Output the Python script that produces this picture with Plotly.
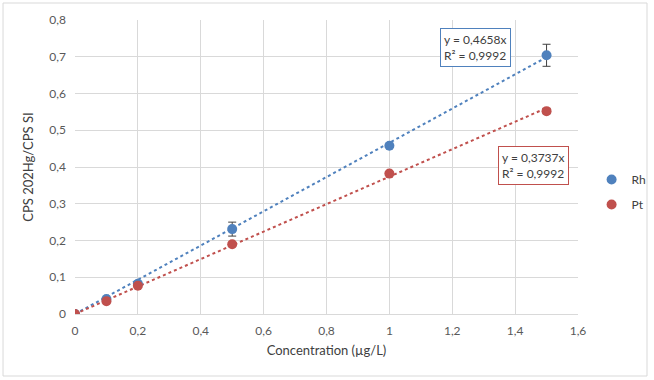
import plotly.graph_objects as go

conc = [0, 0.1, 0.2, 0.5, 1.0, 1.5]
rh_vals = [0.0, 0.041, 0.082, 0.231, 0.458, 0.704]
rh_err = [0.0, 0.0, 0.0, 0.019, 0.0, 0.030]
pt_vals = [0.0, 0.035, 0.077, 0.190, 0.382, 0.552]
pt_err = [0.0, 0.0, 0.0, 0.0, 0.0, 0.007]
rh_slope = 0.4658
pt_slope = 0.3737
trend_x = [0, 1.5]

blue = "#4F81BD"
red = "#C0504D"
font = "Lato"

fig = go.Figure()
fig.add_trace(go.Scatter(x=trend_x, y=[rh_slope * v for v in trend_x], mode="lines",
                         line=dict(color=blue, width=2, dash="dot"), showlegend=False, hoverinfo="skip"))
fig.add_trace(go.Scatter(x=trend_x, y=[pt_slope * v for v in trend_x], mode="lines",
                         line=dict(color=red, width=2, dash="dot"), showlegend=False, hoverinfo="skip"))
fig.add_trace(go.Scatter(x=conc, y=rh_vals, mode="markers", name="Rh", legendgroup="rh",
                         marker=dict(color=blue, size=10),
                         error_y=dict(type="data", array=rh_err, color="#404040", thickness=1, width=4)))
fig.add_trace(go.Scatter(x=conc, y=pt_vals, mode="markers", name="Pt", legendgroup="pt",
                         marker=dict(color=red, size=10),
                         error_y=dict(type="data", array=pt_err, color="#404040", thickness=1, width=4)))

fig.add_annotation(x=1.2755, y=0.724, xref="x", yref="y", showarrow=False,
                   text="y = 0,4658x<br>R² = 0,9992", align="left",
                   font=dict(family=font, size=12, color="#404040"),
                   bordercolor=blue, borderwidth=1, borderpad=3, bgcolor="white")
fig.add_annotation(x=1.457, y=0.405, xref="x", yref="y", showarrow=False,
                   text="y = 0,3737x<br>R² = 0,9992", align="left",
                   font=dict(family=font, size=12, color="#404040"),
                   bordercolor=red, borderwidth=1, borderpad=3, bgcolor="white")

fig.add_shape(type="rect", xref="paper", yref="paper", x0=-0.1431, x1=1.1372, y0=-0.2109, y1=1.0578,
              line=dict(color="#D9D9D9", width=1), layer="below")

fig.update_layout(
    width=654, height=380,
    margin=dict(l=75, r=76, t=20, b=66, autoexpand=False),
    paper_bgcolor="white", plot_bgcolor="white",
    separators=", ",
    font=dict(family=font, size=12, color="#595959"),
    showlegend=True,
    legend=dict(x=1.027, y=0.415, xanchor="left", yanchor="middle", font=dict(size=12, color="#404040"),
                itemwidth=30, traceorder="grouped", tracegroupgap=6, bgcolor="rgba(0,0,0,0)"),
    xaxis=dict(range=[0, 1.6], dtick=0.2, tick0=0, showgrid=True, gridcolor="#D9D9D9",
               zeroline=False, showline=True, linecolor="#D9D9D9", ticks="", ticklabelstandoff=6,
               title=dict(text="Concentration (µg/L)", font=dict(size=13, color="#404040"), standoff=8)),
    yaxis=dict(range=[0, 0.8], dtick=0.1, tick0=0, showgrid=True, gridcolor="#D9D9D9",
               zeroline=False, showline=False, ticks="", ticklabelstandoff=8,
               title=dict(text="CPS 202Hg/CPS SI", font=dict(size=13, color="#404040"), standoff=12)),
)

fig.write_html("out.html")
